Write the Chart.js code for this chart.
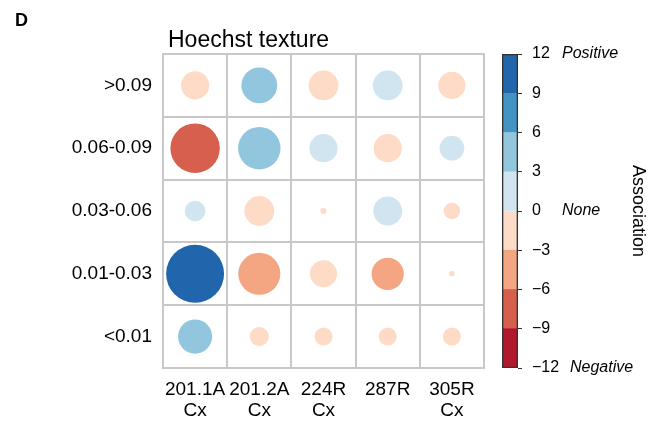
<!DOCTYPE html>
<html>
<head>
<meta charset="utf-8">
<script src="https://cdn.jsdelivr.net/npm/chart.js@4.4.0/dist/chart.umd.min.js"></script>
<style>
  html, body { margin: 0; padding: 0; background: #fff; }
  #wrap { position: relative; width: 649px; height: 421px; }
  #wrap canvas { position: absolute; left: 0; top: 0; }
</style>
</head>
<body>
<div id="wrap">
  <canvas id="bubbleChart" width="649" height="421"></canvas>
  <canvas id="barChart" width="649" height="421"></canvas>
</div>
<script>
const columns = [['201.1A', 'Cx'], ['201.2A', 'Cx'], ['224R', 'Cx'], ['287R', ''], ['305R', 'Cx']];
const rows = ['>0.09', '0.06-0.09', '0.03-0.06', '0.01-0.03', '<0.01'];

// association value per cell, one array per row (columns in order above)
const assocGt009 = [-2.6, 4.2, -2.9, 2.9, -2.4];
const assoc006to009 = [-8.0, 5.9, 2.6, -2.6, 2.0];
const assoc003to006 = [1.4, -2.9, -0.12, 2.75, -0.9];
const assoc001to003 = [11.0, -5.8, -2.4, -3.4, -0.1];
const assocLt001 = [3.8, -1.2, -1.06, -1.06, -1.06];
const assocRows = [assocGt009, assoc006to009, assoc003to006, assoc001to003, assocLt001];

// colour bins, -12..12 in steps of 3
const binEdges = [-12, -9, -6, -3, 0, 3, 6, 9, 12];
const binColors = ['#b2182b', '#d6604d', '#f4a582', '#fddbc7', '#d1e5f0', '#92c5de', '#4393c3', '#2166ac'];
const colorTicks = [-12, -9, -6, -3, 0, 3, 6, 9, 12];

const FONT = "'Liberation Sans', Arial, Helvetica, sans-serif";
const GRID = '#c8c8c8';
const SIZE_K = 8.74;

function colorFor(v) {
  for (let i = 0; i < binColors.length; i++) {
    if (v < binEdges[i + 1]) return binColors[i];
  }
  return binColors[binColors.length - 1];
}

const colKeys = columns.map((c) => c.join(' '));
const points = [];
assocRows.forEach((vals, ri) => {
  vals.forEach((v, ci) => {
    points.push({ x: colKeys[ci], y: rows[ri], r: SIZE_K * Math.sqrt(Math.abs(v)), v: v });
  });
});

const headerText = {
  id: 'headerText',
  afterDraw(chart) {
    const ctx = chart.ctx;
    const area = chart.chartArea;
    ctx.save();
    ctx.fillStyle = '#000';
    ctx.textBaseline = 'alphabetic';
    ctx.font = 'bold 18px ' + FONT;
    ctx.fillText('D', 15, 26);
    ctx.font = '23px ' + FONT;
    ctx.fillText('Hoechst texture', area.left + 5, 47);
    ctx.restore();
  },
};

new Chart(document.getElementById('bubbleChart'), {
  type: 'bubble',
  data: {
    datasets: [
      {
        data: points,
        backgroundColor: points.map((p) => colorFor(p.v)),
        borderWidth: 0,
        hoverBorderWidth: 0,
      },
    ],
  },
  options: {
    responsive: false,
    animation: false,
    events: [],
    layout: { padding: { top: 54, right: 165, left: 0, bottom: 0 } },
    plugins: { legend: { display: false }, tooltip: { enabled: false } },
    scales: {
      x: {
        type: 'category',
        labels: colKeys,
        offset: true,
        grid: { offset: true, color: GRID, lineWidth: 2, drawTicks: false },
        border: { color: GRID, width: 2 },
        ticks: {
          color: '#000',
          padding: 11,
          maxRotation: 0,
          autoSkip: false,
          font: { family: FONT, size: 19, lineHeight: 1.1 },
          callback: (val, i) => columns[i],
        },
        afterFit: (s) => { s.height = 53; },
      },
      y: {
        type: 'category',
        labels: rows,
        offset: true,
        grid: { offset: true, color: GRID, lineWidth: 2, drawTicks: false },
        border: { color: GRID, width: 2 },
        ticks: { color: '#000', padding: 11, autoSkip: false, font: { family: FONT, size: 19 } },
        afterFit: (s) => { s.width = 163; },
      },
      x2: {
        type: 'category',
        labels: colKeys,
        position: 'top',
        offset: true,
        grid: { display: false },
        border: { color: GRID, width: 2 },
        ticks: { display: false },
        afterFit: (s) => { s.height = 0; },
      },
      y2: {
        type: 'category',
        labels: rows,
        position: 'right',
        offset: true,
        grid: { display: false },
        border: { color: GRID, width: 2 },
        ticks: { display: false },
        afterFit: (s) => { s.width = 0; },
      },
    },
  },
  plugins: [headerText],
});

const barLabels = {
  id: 'barLabels',
  afterDraw(chart) {
    const ctx = chart.ctx;
    const y = chart.scales.y;
    ctx.save();
    ctx.fillStyle = '#000';
    ctx.textBaseline = 'middle';
    ctx.font = 'italic 16px ' + FONT;
    ctx.fillText('Positive', 562, y.getPixelForValue(12));
    ctx.fillText('None', 562, y.getPixelForValue(0));
    ctx.fillText('Negative', 570, y.getPixelForValue(-12));
    ctx.translate(638, (chart.chartArea.top + chart.chartArea.bottom) / 2);
    ctx.rotate(Math.PI / 2);
    ctx.textAlign = 'center';
    ctx.font = '18px ' + FONT;
    ctx.fillText('Association', 0, 0);
    ctx.restore();
  },
};

const barDatasets = [
  {
    data: [[colorTicks[0], colorTicks[colorTicks.length - 1]]],
    backgroundColor: 'rgba(0,0,0,0)',
    borderColor: '#333',
    borderWidth: 1,
    borderSkipped: false,
  },
].concat(
  binColors.map((c, i) => ({
    data: [[binEdges[i], binEdges[i + 1]]],
    backgroundColor: c,
    borderWidth: 0,
  }))
);

new Chart(document.getElementById('barChart'), {
  type: 'bar',
  data: { labels: [''], datasets: barDatasets },
  options: {
    responsive: false,
    animation: false,
    events: [],
    layout: { padding: { top: 54, left: 502, right: 0, bottom: 53 } },
    plugins: { legend: { display: false }, tooltip: { enabled: false } },
    datasets: { bar: { barPercentage: 1, categoryPercentage: 1 } },
    scales: {
      x: { stacked: true, display: false },
      y: {
        position: 'right',
        min: -12,
        max: 12,
        afterBuildTicks: (s) => { s.ticks = colorTicks.map((v) => ({ value: v })); },
        grid: { drawOnChartArea: false, drawTicks: true, tickLength: 4, color: '#333', lineWidth: 1 },
        border: { display: false },
        ticks: {
          color: '#000',
          padding: 10,
          font: { family: FONT, size: 16 },
          callback: (v) => (v < 0 ? '\u2212' + Math.abs(v) : String(v)),
        },
        afterFit: (s) => { s.width = 131; },
      },
    },
  },
  plugins: [barLabels],
});
</script>
</body>
</html>
